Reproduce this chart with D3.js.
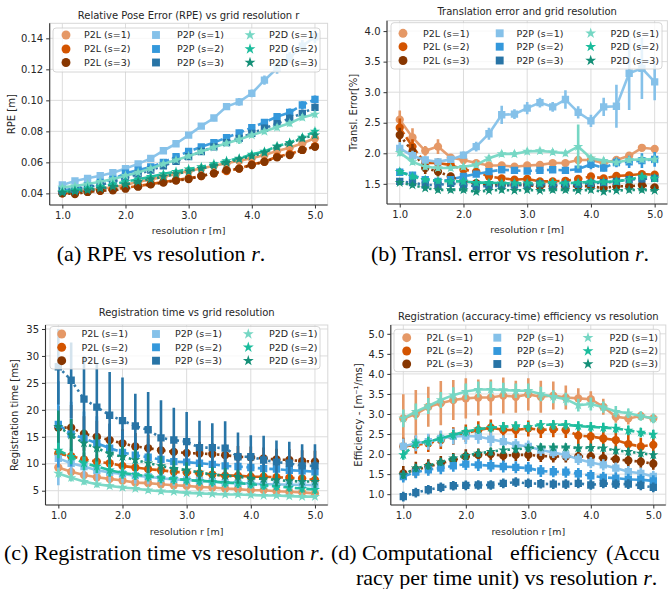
<!DOCTYPE html>
<html><head><meta charset="utf-8">
<script src="https://cdn.jsdelivr.net/npm/d3@7"></script>
<style>body{margin:0;background:#fff}svg{display:block}</style>
</head><body><svg id="c" width="668" height="589"></svg>
<script>
// ---------------- DATA ----------------
const resolution = [1.0,1.2,1.4,1.6,1.8,2.0,2.2,2.4,2.6,2.8,3.0,3.2,3.4,3.6,3.8,4.0,4.2,4.4,4.6,4.8,5.0];
const methods = ["P2L","P2P","P2D"];
const scaleLevels = [1,2,3];

// (a) RPE [m]
const rpeP2L1 = [0.0404,0.0410,0.0420,0.0430,0.0439,0.0454,0.0475,0.0490,0.0508,0.0525,0.0544,0.0560,0.0578,0.0594,0.0610,0.0626,0.0647,0.0673,0.0695,0.0723,0.0755];
const rpeP2L2 = [0.0400,0.0404,0.0410,0.0417,0.0426,0.0437,0.0447,0.0460,0.0473,0.0486,0.0497,0.0512,0.0529,0.0544,0.0560,0.0587,0.0604,0.0637,0.0654,0.0680,0.0705];
const rpeP2L3 = [0.0400,0.0396,0.0409,0.0417,0.0420,0.0430,0.0443,0.0458,0.0469,0.0482,0.0492,0.0512,0.0529,0.0550,0.0560,0.0583,0.0604,0.0632,0.0647,0.0680,0.0700];
const rpeP2P1 = [0.0454,0.0480,0.0497,0.0514,0.0533,0.0560,0.0590,0.0626,0.0675,0.0720,0.0776,0.0834,0.0886,0.0960,0.0990,0.1045,0.1130,0.1206,0.1277,0.1350,0.1410];
const rpeP2P2 = [0.0420,0.0430,0.0450,0.0470,0.0490,0.0530,0.0550,0.0570,0.0600,0.0637,0.0670,0.0700,0.0727,0.0760,0.0790,0.0824,0.0858,0.0895,0.0922,0.0970,0.1006];
const rpeP2P3 = [0.0417,0.0426,0.0439,0.0454,0.0475,0.0500,0.0525,0.0550,0.0578,0.0606,0.0637,0.0670,0.0700,0.0727,0.0755,0.0787,0.0820,0.0850,0.0884,0.0916,0.0955];
const rpeP2D1 = [0.0439,0.0447,0.0460,0.0475,0.0492,0.0514,0.0535,0.0560,0.0590,0.0615,0.0640,0.0670,0.0697,0.0723,0.0748,0.0776,0.0800,0.0826,0.0852,0.0890,0.0910];
const rpeP2D2 = [0.0410,0.0420,0.0432,0.0443,0.0458,0.0475,0.0490,0.0508,0.0525,0.0540,0.0557,0.0570,0.0590,0.0610,0.0626,0.0652,0.0670,0.0705,0.0727,0.0761,0.0800];
const rpeP2D3 = [0.0404,0.0413,0.0420,0.0432,0.0443,0.0458,0.0475,0.0492,0.0508,0.0525,0.0542,0.0560,0.0578,0.0598,0.0620,0.0640,0.0662,0.0700,0.0723,0.0755,0.0776];
const rpeErrP2L1 = [0.0015,0.0015,0.0015,0.0015,0.0015,0.0015,0.0015,0.0015,0.0015,0.0015,0.0015,0.0015,0.0015,0.0015,0.0015,0.0015,0.0015,0.0018,0.0018,0.0020,0.0020];
const rpeErrP2L2 = [0.0015,0.0015,0.0015,0.0015,0.0015,0.0015,0.0015,0.0015,0.0015,0.0015,0.0015,0.0015,0.0015,0.0015,0.0015,0.0015,0.0015,0.0018,0.0018,0.0020,0.0020];
const rpeErrP2L3 = [0.0015,0.0015,0.0015,0.0015,0.0015,0.0015,0.0015,0.0015,0.0015,0.0015,0.0015,0.0015,0.0015,0.0015,0.0015,0.0015,0.0015,0.0018,0.0018,0.0020,0.0020];
const rpeErrP2P1 = [0.0015,0.0015,0.0015,0.0015,0.0015,0.0015,0.0015,0.0015,0.0018,0.0018,0.0018,0.0018,0.0020,0.0020,0.0025,0.0025,0.0030,0.0035,0.0035,0.0040,0.0040];
const rpeErrP2P2 = [0.0015,0.0015,0.0015,0.0015,0.0015,0.0015,0.0015,0.0015,0.0018,0.0018,0.0018,0.0018,0.0020,0.0020,0.0020,0.0020,0.0022,0.0022,0.0025,0.0025,0.0025];
const rpeErrP2P3 = [0.0015,0.0015,0.0015,0.0015,0.0015,0.0015,0.0015,0.0015,0.0018,0.0018,0.0018,0.0018,0.0020,0.0020,0.0020,0.0020,0.0022,0.0022,0.0025,0.0025,0.0025];
const rpeErrP2D1 = [0.0015,0.0015,0.0015,0.0015,0.0015,0.0015,0.0015,0.0015,0.0015,0.0015,0.0015,0.0015,0.0018,0.0018,0.0030,0.0018,0.0018,0.0020,0.0020,0.0020,0.0020];
const rpeErrP2D2 = [0.0015,0.0015,0.0015,0.0015,0.0015,0.0015,0.0015,0.0015,0.0015,0.0015,0.0015,0.0015,0.0015,0.0015,0.0015,0.0015,0.0018,0.0018,0.0018,0.0020,0.0020];
const rpeErrP2D3 = [0.0015,0.0015,0.0015,0.0015,0.0015,0.0015,0.0015,0.0015,0.0015,0.0015,0.0015,0.0015,0.0015,0.0015,0.0015,0.0015,0.0018,0.0018,0.0018,0.0020,0.0020];

// (b) Translation error [%]
const teP2L1 = [2.55,2.26,2.04,2.11,1.93,1.89,1.84,1.80,1.80,1.78,1.80,1.81,1.84,1.84,1.89,1.89,1.84,1.89,1.96,2.09,2.07];
const teP2L2 = [2.42,2.11,1.84,1.84,1.81,1.73,1.70,1.62,1.59,1.57,1.58,1.54,1.54,1.55,1.58,1.62,1.59,1.63,1.64,1.66,1.65];
const teP2L3 = [2.30,2.03,1.76,1.70,1.62,1.54,1.51,1.48,1.48,1.48,1.48,1.46,1.46,1.46,1.46,1.46,1.43,1.46,1.46,1.48,1.44];
const teP2P1 = [2.08,1.96,1.89,1.86,1.90,1.97,2.11,2.32,2.63,2.64,2.74,2.83,2.76,2.88,2.67,2.53,2.76,2.77,3.31,3.39,3.17];
const teP2P2 = [1.69,1.64,1.57,1.54,1.57,1.62,1.66,1.70,1.73,1.72,1.71,1.72,1.73,1.72,1.74,1.82,1.76,1.85,1.86,1.88,1.90];
const teP2P3 = [1.54,1.52,1.48,1.48,1.51,1.48,1.46,1.46,1.47,1.48,1.48,1.50,1.48,1.49,1.49,1.51,1.52,1.54,1.57,1.58,1.59];
const teP2D1 = [2.01,1.86,1.78,1.76,1.76,1.78,1.81,1.92,1.99,1.99,2.03,2.04,2.02,2.00,2.11,1.92,1.88,1.85,1.89,1.90,1.90];
const teP2D2 = [1.70,1.62,1.57,1.55,1.54,1.54,1.52,1.52,1.51,1.51,1.51,1.51,1.52,1.51,1.52,1.53,1.53,1.54,1.57,1.62,1.59];
const teP2D3 = [1.52,1.48,1.43,1.40,1.40,1.40,1.37,1.39,1.40,1.39,1.40,1.39,1.40,1.40,1.39,1.40,1.37,1.39,1.40,1.40,1.39];
const teErrP2L1 = [0.15,0.15,0.08,0.12,0.06,0.05,0.05,0.04,0.04,0.04,0.04,0.04,0.05,0.05,0.05,0.05,0.05,0.05,0.06,0.05,0.06];
const teErrP2L2 = [0.15,0.12,0.08,0.08,0.06,0.05,0.05,0.05,0.04,0.04,0.04,0.04,0.04,0.04,0.04,0.05,0.04,0.05,0.05,0.05,0.05];
const teErrP2L3 = [0.12,0.12,0.10,0.08,0.06,0.05,0.04,0.04,0.04,0.04,0.04,0.04,0.04,0.04,0.04,0.04,0.04,0.04,0.04,0.05,0.04];
const teErrP2P1 = [0.10,0.08,0.06,0.05,0.05,0.06,0.08,0.10,0.15,0.08,0.10,0.08,0.08,0.15,0.10,0.10,0.15,0.35,0.60,0.50,0.30];
const teErrP2P2 = [0.06,0.05,0.05,0.05,0.05,0.05,0.05,0.05,0.05,0.05,0.05,0.05,0.05,0.05,0.05,0.08,0.06,0.08,0.10,0.12,0.12];
const teErrP2P3 = [0.05,0.05,0.05,0.05,0.05,0.05,0.05,0.05,0.05,0.05,0.05,0.05,0.05,0.05,0.05,0.05,0.05,0.05,0.05,0.06,0.06];
const teErrP2D1 = [0.06,0.05,0.05,0.05,0.05,0.05,0.05,0.05,0.05,0.05,0.05,0.05,0.05,0.05,0.36,0.06,0.05,0.05,0.05,0.05,0.05];
const teErrP2D2 = [0.05,0.05,0.05,0.05,0.05,0.05,0.05,0.05,0.05,0.05,0.05,0.05,0.05,0.05,0.05,0.05,0.05,0.05,0.06,0.06,0.06];
const teErrP2D3 = [0.04,0.04,0.04,0.04,0.04,0.04,0.04,0.04,0.04,0.04,0.04,0.04,0.04,0.04,0.04,0.04,0.04,0.04,0.04,0.04,0.04];

// (c) Registration time [ms]
const rtP2L1 = [9.3,8.5,7.9,7.5,7.2,6.9,6.5,6.4,6.2,6.0,5.9,5.7,5.6,5.4,5.3,5.1,5.1,4.9,4.8,4.7,4.5];
const rtP2L2 = [11.9,11.4,10.8,10.4,10.1,9.6,9.3,9.0,8.8,8.5,8.4,8.2,8.0,7.8,7.8,7.6,7.6,7.5,7.4,7.3,7.0];
const rtP2L3 = [16.7,16.7,15.6,15.0,14.4,13.8,13.2,12.9,12.5,12.2,12.0,11.9,11.8,11.6,11.3,11.2,11.0,10.8,10.7,10.5,10.4];
const rtP2P1 = [11.0,10.1,9.5,8.8,8.4,8.1,7.8,7.6,7.3,7.1,7.0,6.9,6.7,6.5,6.4,6.3,6.2,6.2,6.1,6.1,6.0];
const rtP2P2 = [17.3,15.5,14.7,13.8,12.9,12.1,11.6,11.2,10.8,10.4,10.3,10.1,9.9,9.6,9.5,9.3,9.1,9.0,8.8,8.7,8.5];
const rtP2P3 = [28.0,25.5,22.0,20.5,19.0,18.0,17.0,16.3,14.8,14.4,14.1,13.0,13.0,12.9,11.3,11.3,10.7,10.3,10.1,9.6,9.6];
const rtP2D1 = [8.2,7.4,6.7,6.2,5.9,5.6,5.4,5.1,4.9,4.8,4.6,4.5,4.4,4.3,4.3,4.2,4.1,4.1,4.0,3.9,3.9];
const rtP2D2 = [12.5,11.3,10.1,9.5,8.8,8.3,8.0,7.7,7.4,7.2,7.0,6.8,6.7,6.5,6.4,6.2,6.0,5.8,5.6,5.4,5.2];
const rtP2D3 = [16.9,15.3,13.8,12.9,11.9,11.3,10.7,10.1,9.6,9.1,8.8,8.4,8.0,7.8,7.6,7.3,7.2,7.0,6.8,6.7,6.7];
const rtErrP2L1 = [1.0,0.9,0.8,0.8,0.7,0.7,0.7,0.6,0.6,0.6,0.6,0.6,0.6,0.6,0.5,0.5,0.5,0.5,0.5,0.5,0.5];
const rtErrP2L2 = [1.5,1.4,1.3,1.3,1.2,1.2,1.1,1.1,1.1,1.0,1.0,1.0,1.0,1.0,1.0,1.0,1.0,1.0,1.0,1.0,1.0];
const rtErrP2L3 = [4.0,4.2,3.2,3.0,3.0,2.6,2.5,2.5,2.5,2.3,2.2,2.2,2.0,2.0,2.0,2.0,2.0,2.0,2.0,2.0,2.0];
const rtErrP2P1 = [5.0,3.0,2.5,2.0,1.8,1.6,1.5,1.4,1.3,1.2,1.2,1.1,1.1,1.0,1.0,1.0,1.0,1.0,0.9,0.9,0.9];
const rtErrP2P2 = [8.0,6.0,5.0,5.0,4.5,4.0,3.5,3.5,3.0,3.0,3.0,2.8,2.5,2.5,2.5,2.3,2.2,2.2,2.0,2.0,2.0];
const rtErrP2P3 = [7.0,7.0,8.0,8.0,8.0,8.0,6.0,7.0,7.0,6.0,5.5,5.0,4.5,5.0,4.5,4.0,4.5,4.0,4.0,4.0,4.0];
const rtErrP2D1 = [0.8,0.7,0.6,0.6,0.5,0.5,0.5,0.5,0.5,0.4,0.4,0.4,0.4,0.4,0.4,0.4,0.4,0.4,0.4,0.4,0.4];
const rtErrP2D2 = [1.5,1.4,1.3,1.2,1.2,1.1,1.0,1.0,1.0,1.0,0.9,0.9,0.9,0.9,0.9,0.8,0.8,0.8,0.8,0.8,0.8];
const rtErrP2D3 = [3.0,3.0,2.5,2.5,2.0,2.0,2.0,1.8,1.8,1.5,1.5,1.5,1.4,1.4,1.3,1.3,1.3,1.2,1.2,1.2,1.2];

// (d) Efficiency [m^-1/ms]
const efP2L1 = [2.89,3.00,3.18,3.27,3.35,3.39,3.41,3.41,3.46,3.43,3.49,3.43,3.46,3.41,3.39,3.37,3.18,2.93,2.89,2.95,2.89];
const efP2L2 = [2.19,2.23,2.27,2.35,2.45,2.52,2.60,2.66,2.60,2.60,2.64,2.60,2.62,2.60,2.46,2.44,2.39,2.35,2.25,2.19,2.23];
const efP2L3 = [1.52,1.61,1.69,1.77,1.85,1.94,1.98,2.00,1.96,1.98,1.98,1.95,1.94,1.94,1.94,1.94,1.90,1.87,1.84,1.81,1.76];
const efP2P1 = [2.19,2.27,2.31,2.39,2.44,2.45,2.44,2.37,2.31,2.23,2.19,2.10,2.04,1.98,1.87,1.79,1.73,1.65,1.56,1.52,1.44];
const efP2P2 = [1.44,1.55,1.61,1.65,1.71,1.75,1.73,1.71,1.69,1.67,1.65,1.58,1.56,1.55,1.51,1.46,1.42,1.40,1.37,1.36,1.33];
const efP2P3 = [0.94,1.04,1.11,1.17,1.21,1.22,1.23,1.23,1.27,1.30,1.27,1.26,1.25,1.25,1.27,1.23,1.27,1.25,1.25,1.22,1.17];
const efP2D1 = [2.89,3.06,3.20,3.35,3.47,3.56,3.61,3.61,3.60,3.58,3.58,3.50,3.43,3.37,3.22,3.25,3.17,3.06,3.02,2.95,2.89];
const efP2D2 = [1.98,2.27,2.31,2.39,2.48,2.56,2.62,2.66,2.68,2.70,2.68,2.73,2.73,2.73,2.70,2.68,2.66,2.64,2.59,2.54,2.49];
const efP2D3 = [1.48,1.65,1.71,1.80,1.90,1.96,2.02,2.06,2.10,2.12,2.15,2.17,2.17,2.17,2.15,2.16,2.15,2.09,2.06,2.02,1.98];
const efErrP2L1 = [0.60,0.60,0.50,0.55,0.50,0.50,0.45,0.45,0.45,0.40,0.40,0.40,0.35,0.30,0.25,0.20,0.20,0.15,0.15,0.10,0.10];
const efErrP2L2 = [0.22,0.22,0.22,0.22,0.22,0.22,0.22,0.20,0.20,0.20,0.20,0.20,0.20,0.20,0.25,0.25,0.25,0.25,0.25,0.22,0.22];
const efErrP2L3 = [0.18,0.20,0.18,0.18,0.18,0.18,0.16,0.16,0.16,0.15,0.15,0.15,0.15,0.15,0.15,0.15,0.15,0.15,0.15,0.15,0.15];
const efErrP2P1 = [0.20,0.20,0.20,0.20,0.20,0.20,0.18,0.18,0.16,0.15,0.15,0.15,0.14,0.14,0.14,0.14,0.14,0.14,0.14,0.14,0.14];
const efErrP2P2 = [0.15,0.15,0.15,0.15,0.15,0.15,0.15,0.15,0.15,0.15,0.15,0.15,0.14,0.14,0.14,0.14,0.14,0.14,0.14,0.14,0.14];
const efErrP2P3 = [0.12,0.12,0.12,0.12,0.12,0.12,0.12,0.12,0.12,0.12,0.12,0.12,0.12,0.12,0.12,0.12,0.12,0.12,0.12,0.12,0.12];
const efErrP2D1 = [0.22,0.20,0.20,0.20,0.20,0.20,0.20,0.20,0.18,0.18,0.18,0.18,0.16,0.16,0.16,0.16,0.14,0.14,0.12,0.12,0.12];
const efErrP2D2 = [0.12,0.12,0.12,0.12,0.12,0.12,0.12,0.12,0.12,0.12,0.12,0.12,0.12,0.12,0.12,0.12,0.12,0.12,0.12,0.12,0.12];
const efErrP2D3 = [0.10,0.10,0.10,0.10,0.10,0.10,0.10,0.10,0.10,0.10,0.10,0.10,0.10,0.10,0.10,0.10,0.10,0.10,0.10,0.10,0.10];

const yTicksA = [0.04,0.06,0.08,0.10,0.12,0.14];
const yTicksB = [1.5,2.0,2.5,3.0,3.5,4.0];
const yTicksC = [5,10,15,20,25,30,35];
const yTicksD = [1.0,1.5,2.0,2.5,3.0,3.5,4.0,4.5,5.0];
const xTicks = [1.0,2.0,3.0,4.0,5.0];

// ---------------- STYLE ----------------
const colors = {
  P2L:["#e59866","#d35400","#873600"],
  P2P:["#85c1e9","#3498db","#2874a6"],
  P2D:["#76d7c4","#1abc9c","#148f77"]
};
const dashes = ["none","8,3.5","2.4,3.6"];
const symbols = {P2L:d3.symbolCircle, P2P:d3.symbolSquare, P2D:d3.symbolStar};
const symSize = {P2L:54, P2P:54, P2D:32};
const FONT = "DejaVu Sans";
const TXT = "#262626";

const panels = [
  {title:"Relative Pose Error (RPE) vs grid resolution r", ylabel:"RPE [m]",
   vals:{P2L:[rpeP2L1,rpeP2L2,rpeP2L3],P2P:[rpeP2P1,rpeP2P2,rpeP2P3],P2D:[rpeP2D1,rpeP2D2,rpeP2D3]},
   errs:{P2L:[rpeErrP2L1,rpeErrP2L2,rpeErrP2L3],P2P:[rpeErrP2P1,rpeErrP2P2,rpeErrP2P3],P2D:[rpeErrP2D1,rpeErrP2D2,rpeErrP2D3]},
   yDomain:[0.0325,0.1497], yTicks:yTicksA, fmt:".2f",
   box:{l:49.7,r:327.6,t:23.3,b:205}, titleY:18.5, ylabelX:15, xlabelY:234,
   legend:{x:53,y:28,w:267,h:44,mx:[66,156,250],lx:[84,177,269],ry:[35,49,62.5]}},
  {title:"Translation error and grid resolution", ylabel:"Transl. Error[%]",
   vals:{P2L:[teP2L1,teP2L2,teP2L3],P2P:[teP2P1,teP2P2,teP2P3],P2D:[teP2D1,teP2D2,teP2D3]},
   errs:{P2L:[teErrP2L1,teErrP2L2,teErrP2L3],P2P:[teErrP2P1,teErrP2P2,teErrP2P3],P2D:[teErrP2D1,teErrP2D2,teErrP2D3]},
   yDomain:[1.17,4.17], yTicks:yTicksB, fmt:".1f",
   box:{l:387,r:667.4,t:20.7,b:204}, titleY:15, ylabelX:357, xlabelY:233,
   legend:{x:391,y:22.7,w:271,h:46.3,mx:[403,499.7,590.7],lx:[423,516.5,610.5],ry:[33.3,46.7,60.5]}},
  {title:"Registration time vs grid resolution", ylabel:"Registration time [ms]",
   vals:{P2L:[rtP2L1,rtP2L2,rtP2L3],P2P:[rtP2P1,rtP2P2,rtP2P3],P2D:[rtP2D1,rtP2D2,rtP2D3]},
   errs:{P2L:[rtErrP2L1,rtErrP2L2,rtErrP2L3],P2P:[rtErrP2P1,rtErrP2P2,rtErrP2P3],P2D:[rtErrP2D1,rtErrP2D2,rtErrP2D3]},
   yDomain:[2.35,35.74], yTicks:yTicksC, fmt:"d",
   box:{l:45.5,r:327.8,t:325,b:505}, titleY:316, ylabelX:18, xlabelY:535,
   legend:{x:50,y:326.5,w:270,h:42.5,mx:[61.7,156,248.3],lx:[81.5,175,269],ry:[334,347.3,360.7]}},
  {title:"Registration (accuracy-time) efficiency vs resolution", ylabel:"Efficiency - [m\u207B\u00B9/ms]",
   vals:{P2L:[efP2L1,efP2L2,efP2L3],P2P:[efP2P1,efP2P2,efP2P3],P2D:[efP2D1,efP2D2,efP2D3]},
   errs:{P2L:[efErrP2L1,efErrP2L2,efErrP2L3],P2P:[efErrP2P1,efErrP2P2,efErrP2P3],P2D:[efErrP2D1,efErrP2D2,efErrP2D3]},
   yDomain:[0.73,5.22], yTicks:yTicksD, fmt:".1f",
   box:{l:390.8,r:665.8,t:325,b:505}, titleY:320, ylabelX:362, xlabelY:535,
   legend:{x:394,y:329.3,w:266,h:42.4,mx:[406.7,497.3,588],lx:[426.5,517,609.5],ry:[337.7,351,364]}}
];

const svg = d3.select("#c");
svg.append("rect").attr("width",668).attr("height",589).attr("fill","#fff");

panels.forEach((p,pi)=>{
  const b = p.box;
  const x = d3.scaleLinear().domain([0.8,5.2]).range([b.l,b.r]);
  const y = d3.scaleLinear().domain(p.yDomain).range([b.b,b.t]);
  const g = svg.append("g");
  const clipId = "clip"+pi;
  g.append("clipPath").attr("id",clipId).append("rect")
    .attr("x",b.l).attr("y",b.t).attr("width",b.r-b.l).attr("height",b.b-b.t);

  // grid
  const grid = g.append("g").attr("stroke","#dcdcdc").attr("stroke-width",1);
  xTicks.forEach(t=>grid.append("line").attr("x1",x(t)).attr("x2",x(t)).attr("y1",b.t).attr("y2",b.b));
  p.yTicks.forEach(t=>grid.append("line").attr("x1",b.l).attr("x2",b.r).attr("y1",y(t)).attr("y2",y(t)));

  // frame
  g.append("rect").attr("x",b.l).attr("y",b.t).attr("width",b.r-b.l).attr("height",b.b-b.t)
    .attr("fill","none").attr("stroke","#d8d8d8").attr("stroke-width",1);

  // axes
  const xAxis = d3.axisBottom(x).tickValues(xTicks).tickFormat(d3.format(".1f")).tickSizeOuter(0).tickSize(3.5).tickPadding(3);
  const yAxis = d3.axisLeft(y).tickValues(p.yTicks).tickFormat(d3.format(p.fmt)).tickSizeOuter(0).tickSize(3.5).tickPadding(3);
  const gx = g.append("g").attr("transform",`translate(0,${b.b})`).call(xAxis);
  const gy = g.append("g").attr("transform",`translate(${b.l},0)`).call(yAxis);
  [gx,gy].forEach(a=>{
    a.select(".domain").attr("stroke","#333").attr("stroke-width",1.1);
    a.selectAll(".tick line").attr("stroke","#333");
    a.selectAll("text").attr("font-family",FONT).attr("font-size",10).attr("fill",TXT);
  });
  gx.selectAll(".domain").attr("d",`M${b.l},0H${b.r}`);
  gy.selectAll(".domain").attr("d",`M0,${b.b}V${b.t}`);

  // series
  const plot = g.append("g").attr("clip-path",`url(#${clipId})`);
  methods.forEach(m=>{
    scaleLevels.forEach((s,si)=>{
      const vals = p.vals[m][si], errs = p.errs[m][si], col = colors[m][si];
      const pts = resolution.map((r,i)=>({r, v:vals[i], e:errs[i]}));
      const sg = plot.append("g");
      sg.append("path").datum(pts)
        .attr("d",d3.line().x(d=>x(d.r)).y(d=>y(d.v)))
        .attr("fill","none").attr("stroke",col).attr("stroke-width",2.6)
        .attr("stroke-dasharray",dashes[si]).attr("opacity",0.95);
      sg.selectAll("line.err").data(pts).join("line").attr("class","err")
        .attr("x1",d=>x(d.r)).attr("x2",d=>x(d.r))
        .attr("y1",d=>y(d.v-d.e)).attr("y2",d=>y(d.v+d.e))
        .attr("stroke",col).attr("stroke-width",2.6);
      sg.selectAll("path.mk").data(pts).join("path").attr("class","mk")
        .attr("transform",d=>`translate(${x(d.r)},${y(d.v)})`)
        .attr("d",d3.symbol().type(symbols[m]).size(symSize[m]))
        .attr("fill",col);
    });
  });

  // legend
  const L = p.legend;
  const lg = g.append("g");
  lg.append("rect").attr("x",L.x).attr("y",L.y).attr("width",L.w).attr("height",L.h)
    .attr("rx",3).attr("fill","#fff").attr("fill-opacity",0.8).attr("stroke","#cccccc").attr("stroke-width",0.8);
  methods.forEach((m,mi)=>{
    scaleLevels.forEach((s,si)=>{
      lg.append("path").attr("transform",`translate(${L.mx[mi]},${L.ry[si]})`)
        .attr("d",d3.symbol().type(symbols[m]).size(symSize[m]*1.15)).attr("fill",colors[m][si]);
      lg.append("text").attr("x",L.lx[mi]).attr("y",L.ry[si]).attr("dy","0.35em")
        .attr("font-family",FONT).attr("font-size",9.5).attr("fill",TXT)
        .text(`${m} (s=${s})`);
    });
  });

  // title & labels
  g.append("text").attr("x",(b.l+b.r)/2).attr("y",p.titleY).attr("text-anchor","middle")
    .attr("font-family",FONT).attr("font-size",10).attr("fill",TXT).text(p.title);
  g.append("text").attr("x",(b.l+b.r)/2).attr("y",p.xlabelY).attr("text-anchor","middle")
    .attr("font-family",FONT).attr("font-size",9.5).attr("fill",TXT).text("resolution r [m]");
  g.append("text").attr("transform",`translate(${p.ylabelX},${(b.t+b.b)/2}) rotate(-90)`)
    .attr("text-anchor","middle").attr("font-family",FONT).attr("font-size",10).attr("fill",TXT).text(p.ylabel);
});

// captions
const SERIF = "Liberation Serif";
function cap(xp, yp, parts, anchor){
  const t = svg.append("text").attr("x",xp).attr("y",yp).attr("text-anchor",anchor||"start")
    .attr("font-family",SERIF).attr("font-size",22).attr("fill","#000");
  parts.forEach(([s,it])=>t.append("tspan").attr("font-style",it?"italic":"normal").text(s));
}
cap(161,261,[["(a) RPE vs resolution ",0],["r",1],[".",0]],"middle");
cap(510,261,[["(b) Transl. error vs resolution ",0],["r",1],[".",0]],"middle");
cap(4,560,[["(c) Registration time vs resolution ",0],["r",1],[".",0]]);
cap(331,560,[["(d)",0]]);
cap(362,560,[["Computational",0]]);
cap(510,560,[["efficiency",0]]);
cap(606,560,[["(Accu",0]]);
cap(356,585,[["racy per time unit) vs resolution ",0],["r",1],[".",0]]);
</script>
</body></html>
